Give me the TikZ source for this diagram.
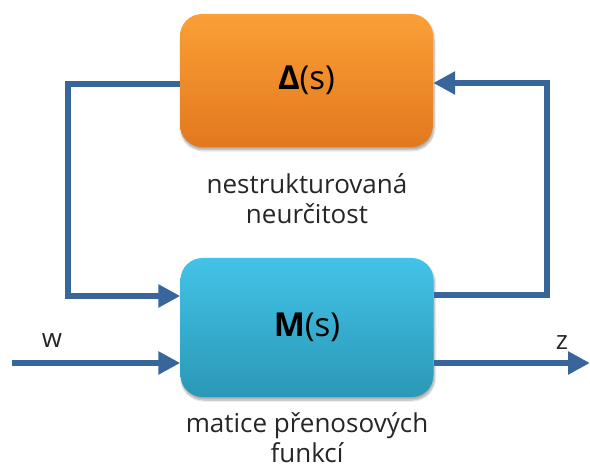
\documentclass[tikz,border=0pt]{standalone}
\usepackage{fontspec}
\setmainfont{Open Sans}
\usetikzlibrary{arrows.meta,shadows.blur,calc}
\definecolor{arrowblue}{HTML}{39669A}
\definecolor{orTop}{HTML}{FAA035}
\definecolor{orBot}{HTML}{E2781E}
\definecolor{blTop}{HTML}{43C3E8}
\definecolor{blBot}{HTML}{2A98B6}
\tikzset{
  blockbox/.style={rounded corners=22pt, minimum width=253pt, draw=none,
    blur shadow={shadow xshift=1pt, shadow yshift=-3pt, shadow blur steps=8, shadow opacity=35},
    font=\fontsize{33}{36}\selectfont},
  sig/.style={draw=arrowblue, line width=6pt},
  sigarrow/.style={sig, -{Triangle[length=22pt,width=22pt]}},
  caption/.style={font=\fontsize{26}{30}\selectfont, align=center, text=black!85, inner sep=0pt},
  siglabel/.style={font=\fontsize{26}{28}\selectfont, text=black!85}
}
\begin{document}
\begin{tikzpicture}[x=1pt,y=-1pt]
\useasboundingbox (0,0) rectangle (590,470);
\node[blockbox, minimum height=133pt, top color=orTop, bottom color=orBot] (delta) at (306.5,80.5) {\textbf{Δ}(s)};
\node[blockbox, minimum height=139pt, top color=blTop, bottom color=blBot] (M) at (307,327.5) {\textbf{M}(s)};
\node[caption] (cap1) at (307,199) {nestrukturovaná\\neurčitost};
\node[caption] (cap2) at (307,438) {matice přenosových\\funkcí};
% left loop
\coordinate (dL) at ($(delta.west)+(0,3.5)$);
\coordinate (mL) at ($(M.west)+(0,-31.5)$);
\coordinate (lc1) at (68,84);
\coordinate (lc2) at (68,296);
\draw[sigarrow] (dL) -- (lc1) -- (lc2) -- (mL);
% right loop
\coordinate (mR) at ($(M.east)+(0,-32.5)$);
\coordinate (dR) at ($(delta.east)+(0,2.5)$);
\coordinate (rc1) at (547,295);
\coordinate (rc2) at (547,83);
\draw[sigarrow] (mR) -- (rc1) -- (rc2) -- (dR);
% input w
\coordinate (win) at (12,363);
\coordinate (mW) at ($(M.west)+(0,35.5)$);
\draw[sigarrow] (win) -- (mW);
\node[siglabel] (wl) at (52,341) {w};
% output z
\coordinate (mZ) at ($(M.east)+(0,35.5)$);
\coordinate (zout) at (590,363);
\draw[sigarrow] (mZ) -- (zout);
\node[siglabel] (zl) at (562,343) {z};
\end{tikzpicture}
\end{document}
